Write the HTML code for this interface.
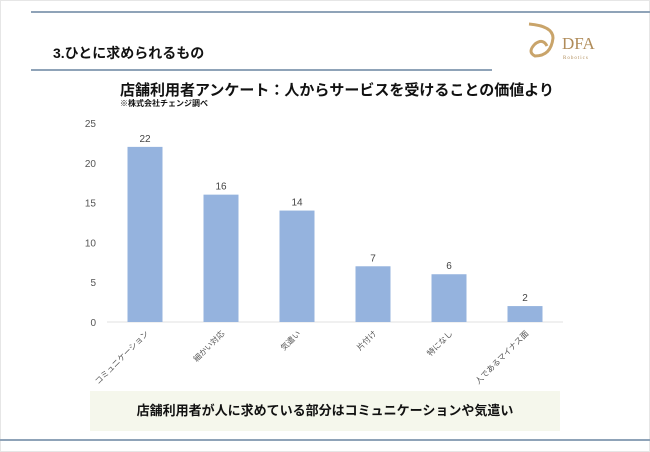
<!DOCTYPE html>
<html><head><meta charset="utf-8"><style>
body{margin:0;width:650px;height:452px;background:#fff;overflow:hidden;font-family:"Liberation Sans","Noto Sans CJK JP",sans-serif;position:relative}
.abs{position:absolute}
</style></head><body>
<div class="abs" style="left:0;top:0;width:648px;height:450px;border:1px solid #e6e6e6"></div>
<div class="abs" style="left:31px;top:11px;width:619px;height:2px;background:#8fa3b8"></div>
<div class="abs" style="left:53px;top:43px;font-size:14px;font-weight:bold;color:#111">3.ひとに求められるもの</div>
<div class="abs" style="left:31px;top:69px;width:461px;height:2px;background:#8fa3b8"></div>
<div class="abs" style="left:525px;top:22px;width:90px;height:40px">
<svg width="90" height="40"><path d="M4 2 Q28 4 28 16 Q26 34 10 34 Q2 30 10 22 Q18 16 22 24" fill="none" stroke="#c9a46a" stroke-width="3"/>
<text x="37" y="27" font-family="Liberation Serif,serif" font-size="17" fill="#b08c5a">DFA</text>
<text x="38" y="37" font-family="Liberation Serif,serif" font-size="5" fill="#b08c5a" letter-spacing="1">Robotics</text></svg></div>
<div class="abs" style="left:120px;top:79px;font-size:15px;font-weight:bold;color:#111">店舗利用者アンケート：人からサービスを受けることの価値より</div>
<div class="abs" style="left:120px;top:98px;font-size:8px;font-weight:bold;color:#111">※株式会社チェンジ調べ</div>
<svg class="abs" id="chart" style="left:0;top:0" width="650" height="452"></svg>
<div class="abs" style="left:90px;top:391px;width:470px;height:40px;background:#f5f7ec;text-align:center;line-height:40px;font-size:13px;font-weight:bold;color:#111">店舗利用者が人に求めている部分はコミュニケーションや気遣い</div>
<div class="abs" style="left:0;top:439px;width:650px;height:2px;background:#8fa3b8"></div>
<script>
const categories=["コミュニケーション","細かい対応","気遣い","片付け","特になし","人であるマイナス面"];
const values=[22,16,14,7,6,2];
const ticks=[0,5,10,15,20,25];
const svg=document.getElementById('chart');const NS="http://www.w3.org/2000/svg";
const y0=322,y1=123,maxV=25,x0=107,step=76,bw=35;
const yS=v=>y0-(v/maxV)*(y0-y1);
const xS=i=>x0+step*(i+0.5);
function mk(t,a){const e=document.createElementNS(NS,t);for(const k in a)e.setAttribute(k,a[k]);svg.appendChild(e);return e;}
ticks.forEach(t=>{const e=mk('text',{x:96,y:yS(t)+4,'text-anchor':'end','font-size':10,fill:'#555'});e.textContent=t;

});
const ax=mk('line',{x1:x0,x2:x0+step*6,y1:y0,y2:y0,stroke:'#e0e0e0'});


values.forEach((v,i)=>{
const r=mk('rect',{x:xS(i)-bw/2,y:yS(v),width:bw,height:y0-yS(v),fill:'#95b3de'});


const l=mk('text',{x:xS(i),y:yS(v)-5,'text-anchor':'middle','font-size':10,fill:'#444'});l.textContent=v;


const c=mk('text',{x:xS(i)+4,y:y0+12,'text-anchor':'end','font-size':8,fill:'#555',transform:`rotate(-45 ${xS(i)+4} ${y0+12})`});c.textContent=categories[i];


});
</script>
</body></html>
